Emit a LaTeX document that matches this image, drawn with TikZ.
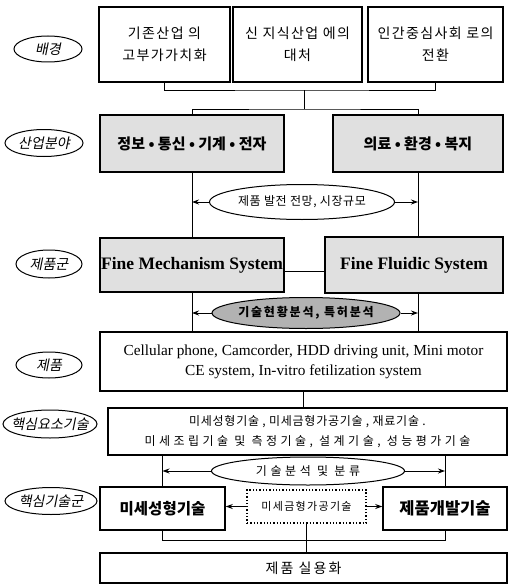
\documentclass[tikz,border=0pt]{standalone}
\usepackage{fontspec}
\setmainfont{Liberation Serif}
\newfontfamily\kr{Noto Sans CJK KR}
\newfontfamily\krit{Noto Sans CJK KR}[FakeSlant=0.2]
\usetikzlibrary{shapes.geometric,arrows.meta}
\begin{document}
\begin{tikzpicture}[x=1pt,y=-1pt]
\tikzset{
 box/.style={draw, line width=1.5pt, inner sep=0pt, align=center},
 gbox/.style={box, fill=black!12},
 ktop/.style={font=\kr\fontsize{14}{22}\selectfont\addfontfeature{LetterSpace=10}},
 lab/.style={draw, ellipse, line width=1pt, inner sep=0pt, font=\krit\fontsize{14}{16}\selectfont},
 oval/.style={draw, ellipse, line width=1pt, inner sep=0pt, fill=white},
 conn/.style={line width=0.9pt},
 arr/.style={conn, -{Stealth[length=7pt,width=5pt]}},
}
\useasboundingbox (0,0) rectangle (510,586);

% left labels
\node[lab, minimum width=68pt, minimum height=26pt] (L1) at (48,49) {\makebox[0pt]{배경}};
\node[lab, minimum width=78pt, minimum height=27pt] (L2) at (44,143) {\makebox[0pt]{산업분야}};
\node[lab, minimum width=66pt, minimum height=28pt] (L3) at (49,264) {\makebox[0pt]{제품군}};
\node[lab, minimum width=66pt, minimum height=26pt] (L4) at (49,365) {\makebox[0pt]{제품}};
\node[lab, minimum width=94pt, minimum height=28pt] (L5) at (50,424) {\makebox[0pt]{핵심요소기술}};
\node[lab, minimum width=92pt, minimum height=27pt] (L6) at (51,501) {\makebox[0pt]{핵심기술군}};

% row 1
\node[box, ktop, minimum width=131pt, minimum height=75pt] (b1) at (164.5,44.5) {기존산업 의\\고부가가치화};
\node[box, ktop, minimum width=129pt, minimum height=75pt] (b2) at (297.5,44.5) {신 지식산업 에의\\대처};
\node[box, ktop, minimum width=135pt, minimum height=75pt] (b3) at (435.5,44.5) {인간중심사회 로의\\전환};

% row 2
\node[gbox, minimum width=184pt, minimum height=57pt, font=\kr\bfseries\fontsize{15}{18}\selectfont] (s1) at (192,143.5) {정보 • 통신 • 기계 • 전자};
\node[gbox, minimum width=170pt, minimum height=57pt, font=\kr\bfseries\fontsize{15}{18}\selectfont] (s2) at (418,143.5) {의료 • 환경 • 복지};

\node[oval, minimum width=185pt, minimum height=35pt] (e1) at (302,202) {\makebox[0pt]{\kr\fontsize{12}{14}\selectfont\addfontfeature{LetterSpace=5}제품 발전 전망, 시장규모}};

% row 3
\node[gbox, minimum width=184pt, minimum height=54pt, font=\bfseries\fontsize{17.5}{20}\selectfont] (f1) at (192,265) {Fine Mechanism System};
\node[gbox, minimum width=178pt, minimum height=56pt, font=\bfseries\fontsize{17.5}{20}\selectfont] (f2) at (414,265) {Fine Fluidic System};

\node[oval, fill=black!30, minimum width=188pt, minimum height=31pt] (e2) at (306,313) {\makebox[0pt]{\kr\bfseries\fontsize{12}{14}\selectfont\addfontfeature{LetterSpace=15}기술현황분석, 특허분석}};

% row 4
\node[box, minimum width=407pt, minimum height=59pt, font=\fontsize{15.3}{20}\selectfont] (p) at (303.5,361.5) {Cellular phone, Camcorder, HDD driving unit, Mini motor\\CE system, In-vitro fetilization system};

% row 5
\node[box, minimum width=399pt, minimum height=47pt, font=\kr\fontsize{12}{20}\selectfont] (k) at (307.5,431.5) {{\addfontfeature{LetterSpace=6}미세성형기술 , 미세금형가공기술 , 재료기술 .}\\{\addfontfeature{LetterSpace=29}미세조립기술 및 측정기술, 설계기술, 성능평가기술}};

\node[oval, minimum width=193pt, minimum height=28pt] (e3) at (308,471) {\makebox[0pt]{\kr\fontsize{12}{14}\selectfont\addfontfeature{LetterSpace=30}기술분석 및 분류}};

% row 6
\node[box, minimum width=125pt, minimum height=43pt, font=\kr\bfseries\fontsize{15.5}{18}\selectfont] (m1) at (162.5,508.5) {미세성형기술};
\node[box, minimum width=124pt, minimum height=43pt, font=\kr\bfseries\fontsize{16.5}{18}\selectfont] (m2) at (445,508.5) {제품개발기술};
\node[draw, dotted, line width=1.3pt, inner sep=0pt, minimum width=119pt, minimum height=33pt, font=\kr\fontsize{11}{13}\selectfont\addfontfeature{LetterSpace=12}] (d) at (306.5,506.5) {미세금형가공기술};

% final
\node[box, minimum width=407pt, minimum height=30pt, font=\kr\fontsize{14}{16}\selectfont\addfontfeature{LetterSpace=15}] (u) at (303.5,568) {제품 실용화};

% connectors
\coordinate (j1) at (304,90);
\coordinate (j2) at (304,109);
\draw[conn] (b1.south) |- (j1) -| (b3.south);
\draw[conn] (j1) -- (j2);
\draw[conn] (s1.north) |- (j2) -| (s2.north);
\draw[conn] (s1.south) -- (f1.north);
\draw[conn] (s2.south) -- (s2.south |- f2.north);
\draw[arr] (e1.west) -- (e1.west -| s1.south);
\draw[arr] (e1.east) -- (e1.east -| s2.south);
\draw[conn] ([yshift=-6pt]f1.east) -- ([yshift=-6pt]f1.east -| f2.west);
\draw[conn] (f1.south) -- (f1.south |- p.north);
\draw[conn] (s2.south |- f2.south) -- (s2.south |- p.north);
\draw[arr] (e2.west) -- (e2.west -| f1.south);
\draw[arr] (e2.east) -- (e2.east -| s2.south);
\draw[conn] (p.south) -- (p.south |- k.north);
\draw[conn] (k.south -| m1.north) -- (m1.north);
\draw[conn] (k.south -| m2.north) -- (m2.north);
\draw[arr] (e3.west) -- (e3.west -| m1.north);
\draw[arr] (e3.east) -- (e3.east -| m2.north);
\draw[arr] (d.west) -- (d.west -| m1.east);
\draw[arr] (d.east) -- (d.east -| m2.west);
\draw[conn] (m1.south) -- ++(0,10) -| (m2.south);
\draw[conn] (d.south) -- (d.south |- u.north);
\end{tikzpicture}
\end{document}
